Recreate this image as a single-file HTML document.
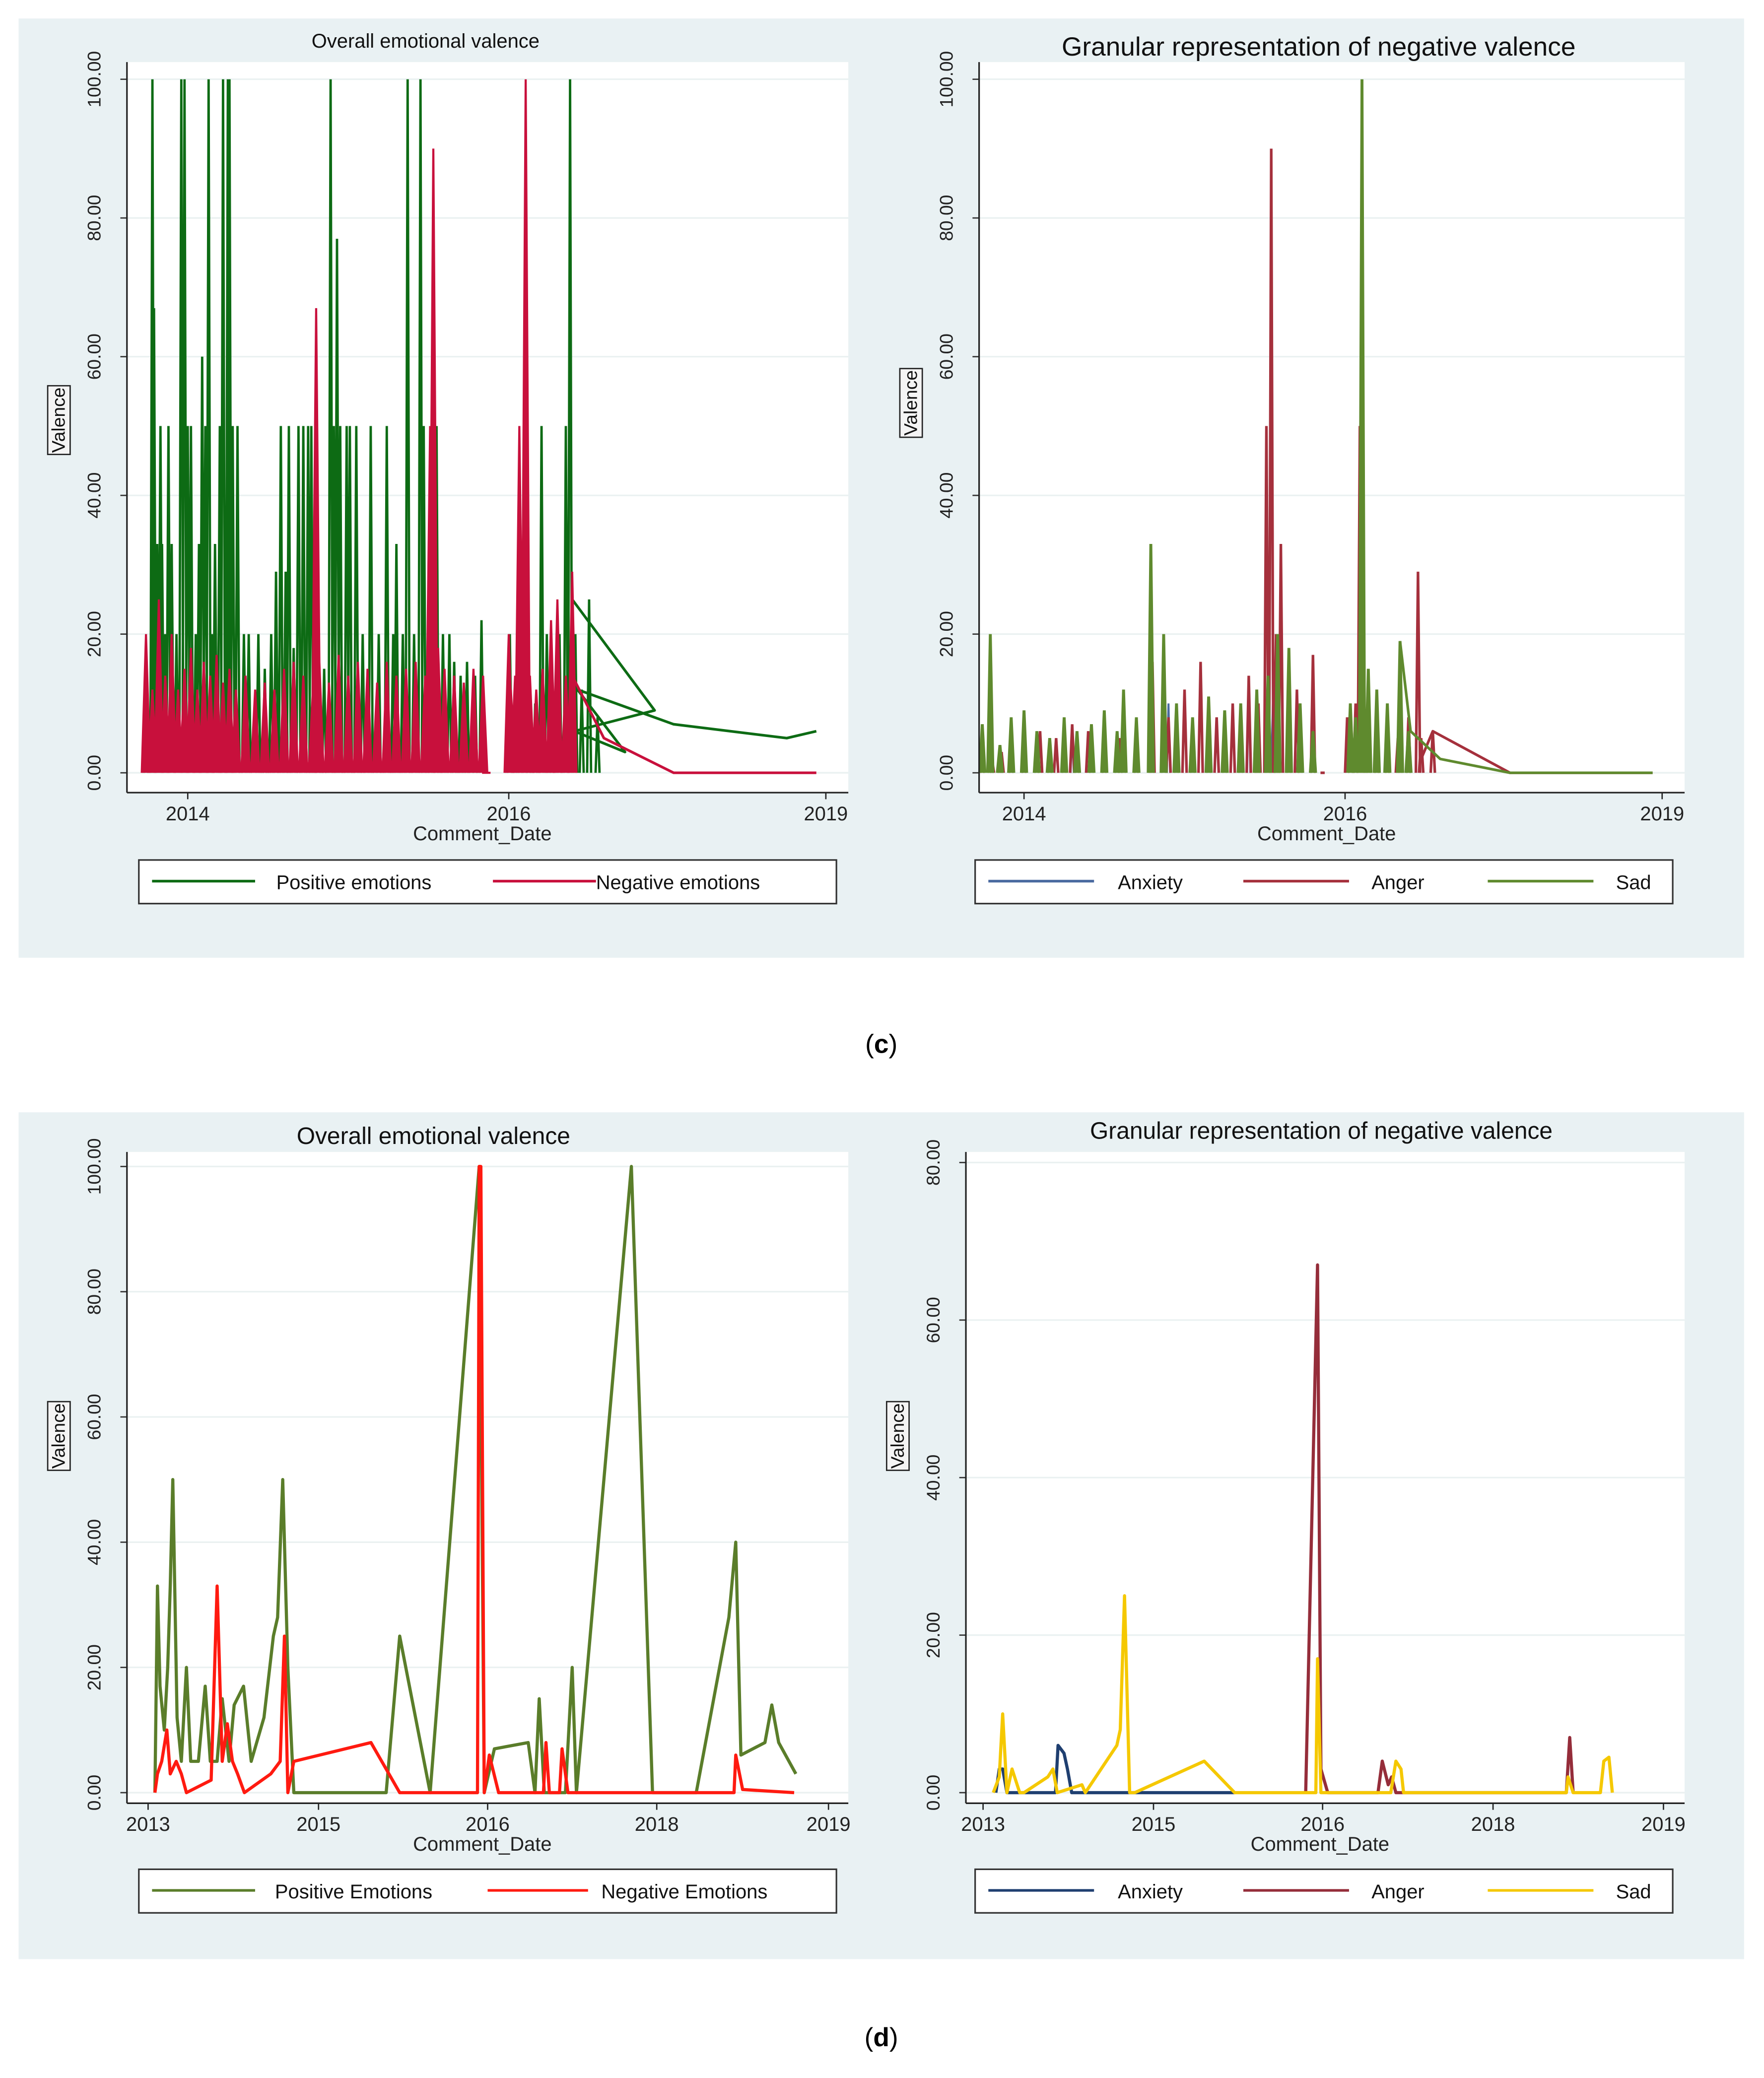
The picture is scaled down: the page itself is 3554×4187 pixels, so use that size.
<!DOCTYPE html>
<html><head><meta charset="utf-8"><style>
html,body{margin:0;padding:0;background:#fff;}
svg{display:block;}
text{font-family:"Liberation Sans",sans-serif;}
</style></head><body>
<svg id="fig" width="3554" height="4187" viewBox="0 0 1335 1573" xmlns="http://www.w3.org/2000/svg">
<rect x="14" y="14" width="1306" height="711" fill="#e9f1f3"/>
<rect x="14" y="842" width="1306" height="641" fill="#e9f1f3"/>
<text x="667" y="797" font-size="20" text-anchor="middle" font-family="Liberation Serif">(<tspan font-weight="bold">c</tspan>)</text>
<text x="667" y="1549" font-size="20" text-anchor="middle" font-family="Liberation Serif">(<tspan font-weight="bold">d</tspan>)</text>
</svg>
<script>
// ---------- data: panel c left ----------
const cPosT = [13.74,13.78,13.79,13.81,13.83,13.84,13.86,13.88,13.90,13.93,13.96,13.98,14.00,14.02,14.05,14.07,14.09,14.11,14.13,14.15,14.17,14.20,14.22,14.25,14.26,14.28,14.31,14.35,14.38,14.44,14.48,14.52,14.55,14.58,14.61,14.63,14.66,14.69,14.72,14.75,14.77,14.81,14.85,14.89,14.91,14.93,14.95,14.99,15.01,15.05,15.09,15.14,15.19,15.24,15.28,15.30,15.34,15.37,15.41,15.45,15.47,15.51,15.55,15.59,15.63,15.66,15.70,15.74,15.79,15.83,16.01,16.06,16.11,16.19,16.25,16.31,16.36,16.41,16.48,16.54,16.58,16.63,16.69,16.76,16.84];
const cPosV = [17,100,67,33,50,33,20,50,33,20,100,100,50,50,20,33,60,50,100,20,33,50,100,100,100,50,50,20,20,20,15,20,29,50,29,50,18,50,50,50,50,20,15,100,50,77,50,50,50,50,20,50,20,50,20,33,20,100,20,100,50,33,50,20,20,16,14,16,14,22,20,10,20,15,10,50,20,10,20,50,100,20,12,25,8];
const cPosTailT = [16.60,17.38,16.62,17.10,16.65,17.56,18.63,18.91];
const cPosTailV = [25,9,6,3,12,7,5,6];
const cNegT = [13.74,13.78,13.82,13.86,13.90,13.94,13.98,14.02,14.06,14.10,14.14,14.18,14.22,14.26,14.30,14.36,14.42,14.48,14.54,14.60,14.66,14.72,14.78,14.80,14.82,14.88,14.94,15.00,15.06,15.12,15.18,15.24,15.30,15.36,15.42,15.48,15.51,15.53,15.56,15.60,15.66,15.72,15.78,15.84,15.86,16.00,16.02,16.06,16.10,16.16,16.20,16.26,16.32,16.40,16.46,16.54,16.60];
const cNegV = [20,12,25,14,20,12,15,18,12,16,14,17,13,15,12,14,12,13,12,15,16,14,12,67,16,13,17,14,16,15,13,16,14,15,16,14,50,90,18,15,14,13,15,14,0,20,12,14,50,100,14,12,15,22,25,14,29];
const cNegTailT = [16.60,16.90,17.56,18.91];
const cNegTailV = [14,5,0,0];
// ---------- data: panel c right ----------
const cAngT = [13.74,13.80,13.86,13.92,14.00,14.10,14.20,14.30,14.40,14.50,14.60,14.70,14.80,14.90,15.00,15.10,15.20,15.30,15.40,15.46,15.51,15.54,15.57,15.60,15.70,15.80,15.86,16.02,16.10,16.14,16.20,16.30,16.40,16.50,16.60,16.69,16.72,16.83];
const cAngV = [4,2,3,5,4,6,5,7,6,8,5,7,16,8,12,16,8,10,14,10,50,90,20,33,12,17,0,8,10,50,8,10,6,5,8,29,5,6];
const cAngTailT = [16.72,16.83,17.56,18.91];
const cAngTailV = [2,6,0,0];
const cSadT = [13.74,13.79,13.85,13.92,14.00,14.08,14.16,14.25,14.33,14.42,14.50,14.58,14.62,14.70,14.79,14.87,14.95,15.05,15.15,15.25,15.35,15.45,15.52,15.58,15.65,15.72,15.80,16.05,16.10,16.16,16.22,16.30,16.40,16.52,16.60];
const cSadV = [7,20,4,8,9,6,5,8,6,7,9,6,12,8,33,20,10,8,11,9,10,12,14,20,18,10,6,10,8,100,15,12,10,19,6];
const cSadTailT = [16.52,16.62,16.90,17.56,18.91];
const cSadTailV = [19,6,2,0,0];
const cAnxT = [14.30,14.90,15.40,15.55];
const cAnxV = [6,10,14,10];
// ---------- data: panel d left ----------
const dPosT = [13.08,13.11,13.14,13.19,13.23,13.26,13.29,13.34,13.39,13.45,13.50,13.59,13.67,13.73,13.81,13.87,13.95,14.01,14.12,14.21,14.36,14.47,14.52,14.58,14.64,14.71,15.40,15.48,15.66,15.95,15.98,16.08,16.48,16.56,16.61,16.67,16.92,17.00,17.05,17.70,17.95,18.23,18.42,18.46,18.49,18.63,18.67,18.71,18.81];
const dPosV = [0,33,17,10,20,33,50,12,5,20,5,5,17,5,5,15,5,14,17,5,12,25,28,50,20,0,0,25,0,100,0,7,8,0,15,0,0,20,0,100,0,0,28,40,6,8,14,8,3];
const dNegT = [13.08,13.11,13.16,13.22,13.26,13.33,13.39,13.45,13.74,13.81,13.87,13.93,13.99,14.05,14.13,14.44,14.55,14.60,14.64,14.71,15.31,15.48,15.94,15.95,15.96,15.98,16.02,16.13,16.66,16.69,16.73,16.85,16.88,16.95,18.45,18.46,18.50,18.80];
const dNegV = [0,3,5,10,3,5,3,0,2,33,5,11,5,3,0,3,5,25,0,5,8,0,0,100,100,0,6,0,0,8,0,0,7,0,0,6,0.5,0];
// ---------- data: panel d right ----------
const dSadT = [13.12,13.19,13.23,13.28,13.34,13.43,13.48,13.76,13.82,13.87,14.16,14.20,14.57,14.61,14.66,14.72,14.78,15.30,15.48,15.96,15.97,15.99,16.80,16.86,16.92,16.95,18.43,18.44,18.47,18.63,18.65,18.68,18.70];
const dSadV = [0,2,10,0,3,0,0,2,3,0,1,0,6,8,25,0,0,4,0,0,17,0,0,4,3,0,0,2,0,0,4,4.5,0];
const dAngT = [15.90,15.97,15.99,16.06,16.65,16.70,16.77,16.81,16.86,18.43,18.45,18.47];
const dAngV = [0,67,3,0,0,4,1,2,0,0,7,0];
const dAnxT = [13.15,13.19,13.23,13.28,13.85,13.88,13.95,13.99,14.04,15.48];
const dAnxV = [0,3,3,0,0,6,5,3,0,0];
// tick labels
const cXTicks = [2014,2016,2019];
const dXTicks = [2013,2015,2016,2018,2019];
const yTicks100 = [0,20,40,60,80,100];
const yTicks80 = [0,20,40,60,80];

const NS = "http://www.w3.org/2000/svg";
const fig = document.getElementById('fig');
function el(tag, attrs, parent){
  const e = document.createElementNS(NS, tag);
  for (const k in attrs) e.setAttribute(k, attrs[k]);
  (parent||fig).appendChild(e);
  return e;
}
function piecewise(dom, rng){
  return function(t){
    let i = 0;
    while (i < dom.length-2 && t > dom[i+1]) i++;
    return rng[i] + (t-dom[i])*(rng[i+1]-rng[i])/(dom[i+1]-dom[i]);
  };
}

function makeChart(cfg){
  const g = el('g', {});
  
  
  const bg = el('rect', {x:cfg.left, y:cfg.top, width:cfg.right-cfg.left, height:cfg.axisY-cfg.top, fill:'#fff'}, g);
  
  
  const x = piecewise(cfg.xTicks.map(v=>v-2000), cfg.xPos);
  const y = v => cfg.y0 + (cfg.yTop - cfg.y0) * v / cfg.yMax;
  cfg.yTicks.forEach(v=>{
    const gl = el('line', {x1:cfg.left, x2:cfg.right, y1:y(v), y2:y(v), stroke:'#eaf1f1', 'stroke-width':1.2}, g);
    
    
    const tk = el('line', {x1:cfg.left-5, x2:cfg.left, y1:y(v), y2:y(v), stroke:'#333', 'stroke-width':1}, g);
    
    
    const tx = el('text', {x:0, y:0, 'font-size':14, 'text-anchor':'middle', fill:'#222', transform:`translate(${cfg.left-20},${y(v)}) rotate(-90)`}, g);
    tx.textContent = v.toFixed(2);
    
    
  });
  const clip = el('g', {}, g);
  cfg.series.forEach(s=>{
    let d = '';
    if (s.kind === 'spikes'){
      for (let i=0;i<s.t.length && i<s.v.length;i++){
        const xx = x(s.t[i]);
        d += `M${(xx-s.w).toFixed(2)},${y(0).toFixed(2)}L${xx.toFixed(2)},${y(s.v[i]).toFixed(2)}L${(xx+s.w).toFixed(2)},${y(0).toFixed(2)}`;
      }
      const p = el('path', {d, fill:s.fill||'none', stroke:s.color, 'stroke-width':s.sw, 'stroke-linejoin':'miter'}, clip);
      
      
    } else {
      for (let i=0;i<s.t.length && i<s.v.length;i++) d += (i?'L':'M') + x(s.t[i]).toFixed(2) + ',' + y(s.v[i]).toFixed(2);
      const p = el('path', {d, fill:'none', stroke:s.color, 'stroke-width':s.sw, 'stroke-linejoin':'round'}, clip);
      
      
    }
  });
  const ya = el('line', {x1:cfg.left, x2:cfg.left, y1:cfg.top, y2:cfg.axisY, stroke:'#222', 'stroke-width':1.2}, g);
  
  
  const xa = el('line', {x1:cfg.left, x2:cfg.right, y1:cfg.axisY, y2:cfg.axisY, stroke:'#222', 'stroke-width':1.2}, g);
  
  
  cfg.xTicks.forEach(v=>{
    const xx = x(v-2000);
    const tk = el('line', {x1:xx, x2:xx, y1:cfg.axisY, y2:cfg.axisY+5, stroke:'#222', 'stroke-width':1}, g);
    
    
    const tx = el('text', {x:xx, y:cfg.axisY+21, 'font-size':15, 'text-anchor':'middle', fill:'#222'}, g);
    tx.textContent = v;
    
    
  });
  const xt = el('text', {x:(cfg.left+cfg.right)/2 - 4, y:cfg.axisY+36, 'font-size':15, 'text-anchor':'middle', fill:'#222'}, g);
  xt.textContent = 'Comment_Date';
  
  
  const ybox = el('rect', {x:cfg.left-60, y:cfg.valY-26, width:17, height:52, fill:'#f4f4f4', stroke:'#222', 'stroke-width':1}, g);
  
  
  const yt = el('text', {x:0, y:0, 'font-size':14, 'text-anchor':'middle', fill:'#111', transform:`translate(${cfg.left-47},${cfg.valY}) rotate(-90)`}, g);
  yt.textContent = 'Valence';
  
  
  const tt = el('text', {x:cfg.titleX, y:cfg.titleY, 'font-size':cfg.titleSize, 'text-anchor':'middle', fill:'#111'}, g);
  tt.textContent = cfg.title;
  
  
  const lg = el('g', {}, g);
  
  
  const lb = el('rect', {x:cfg.legX, y:cfg.legY, width:528, height:33, fill:'#fff', stroke:'#333', 'stroke-width':1.2}, lg);
  
  
  cfg.legend.forEach(it=>{
    const ln = el('line', {x1:cfg.legX+it.x1, x2:cfg.legX+it.x2, y1:cfg.legY+16, y2:cfg.legY+16, stroke:it.color, 'stroke-width':2}, lg);
    
    
    const tx = el('text', {x:cfg.legX+it.tx, y:cfg.legY+22, 'font-size':15, fill:'#111'}, lg);
    tx.textContent = it.label;
    
    
  });
}

const GREEN='#0d6b14', CRED='#c8103c', ANG='#a5303c', SAD='#5f8a2e', ANX='#4a6aa0';
makeChart({name:'chart-c-overall', left:96, right:642, top:47, axisY:600, y0:585, yTop:60, yMax:100, yTicks:yTicks100,
  xTicks:cXTicks, xPos:[142,385,625], valY:318, title:'Overall emotional valence', titleX:322, titleY:36, titleSize:15,
  legX:105, legY:651, legend:[{x1:10,x2:88,color:GREEN,label:'Positive emotions',tx:104},{x1:268,x2:346,color:CRED,label:'Negative emotions',tx:346}],
  series:[
    {kind:'spikes', t:cPosT, v:cPosV, color:GREEN, sw:1.8, w:1.5, name:'positive-emotions-series'},
    {kind:'line', t:cPosTailT, v:cPosTailV, color:GREEN, sw:2, name:'positive-emotions-tail'},
    {kind:'spikes', t:cNegT, v:cNegV, color:CRED, fill:CRED, sw:1.6, w:3.2, name:'negative-emotions-series'},
    {kind:'line', t:cNegTailT, v:cNegTailV, color:CRED, sw:2, name:'negative-emotions-tail'}
  ]});
makeChart({name:'chart-c-granular', left:741, right:1275, top:47, axisY:600, y0:585, yTop:60, yMax:100, yTicks:yTicks100,
  xTicks:cXTicks, xPos:[775,1018,1258], valY:305, title:'Granular representation of negative valence', titleX:998, titleY:42, titleSize:20,
  legX:738, legY:651, legend:[{x1:10,x2:90,color:ANX,label:'Anxiety',tx:108},{x1:203,x2:283,color:ANG,label:'Anger',tx:300},{x1:388,x2:468,color:SAD,label:'Sad',tx:485}],
  series:[
    {kind:'spikes', t:cAnxT, v:cAnxV, color:ANX, sw:1.5, w:1.2, name:'anxiety-series'},
    {kind:'spikes', t:cAngT, v:cAngV, color:ANG, sw:2, w:1.6, name:'anger-series'},
    {kind:'line', t:cAngTailT, v:cAngTailV, color:ANG, sw:2, name:'anger-tail'},
    {kind:'spikes', t:cSadT, v:cSadV, color:SAD, fill:SAD, sw:2.2, w:2, name:'sad-series'},
    {kind:'line', t:cSadTailT, v:cSadTailV, color:SAD, sw:2, name:'sad-tail'}
  ]});
const DGREEN='#5a7d2a', DRED='#ff1a10', DANG='#952d3a', DSAD='#f5c800', DANX='#1f3f70';
makeChart({name:'chart-d-overall', left:96, right:642, top:872, axisY:1365, y0:1357, yTop:883, yMax:100, yTicks:yTicks100,
  xTicks:dXTicks, xPos:[112,241,369,497,627], valY:1087, title:'Overall emotional valence', titleX:328, titleY:866, titleSize:18,
  legX:105, legY:1415, legend:[{x1:10,x2:88,color:DGREEN,label:'Positive Emotions',tx:103},{x1:264,x2:340,color:DRED,label:'Negative Emotions',tx:350}],
  series:[
    {kind:'line', t:dPosT, v:dPosV, color:DGREEN, sw:2.4, name:'positive-emotions-series'},
    {kind:'line', t:dNegT, v:dNegV, color:DRED, sw:2.4, name:'negative-emotions-series'}
  ]});
makeChart({name:'chart-d-granular', left:731, right:1275, top:872, axisY:1365, y0:1357, yTop:880, yMax:80, yTicks:yTicks80,
  xTicks:dXTicks, xPos:[744,873,1001,1130,1259], valY:1087, title:'Granular representation of negative valence', titleX:1000, titleY:862, titleSize:18,
  legX:738, legY:1415, legend:[{x1:10,x2:90,color:DANX,label:'Anxiety',tx:108},{x1:203,x2:283,color:DANG,label:'Anger',tx:300},{x1:388,x2:468,color:DSAD,label:'Sad',tx:485}],
  series:[
    {kind:'line', t:dAnxT, v:dAnxV, color:DANX, sw:2.4, name:'anxiety-series'},
    {kind:'line', t:dAngT, v:dAngV, color:DANG, sw:2.4, name:'anger-series'},
    {kind:'line', t:dSadT, v:dSadV, color:DSAD, sw:2.4, name:'sad-series'}
  ]});
</script>
</body></html>
